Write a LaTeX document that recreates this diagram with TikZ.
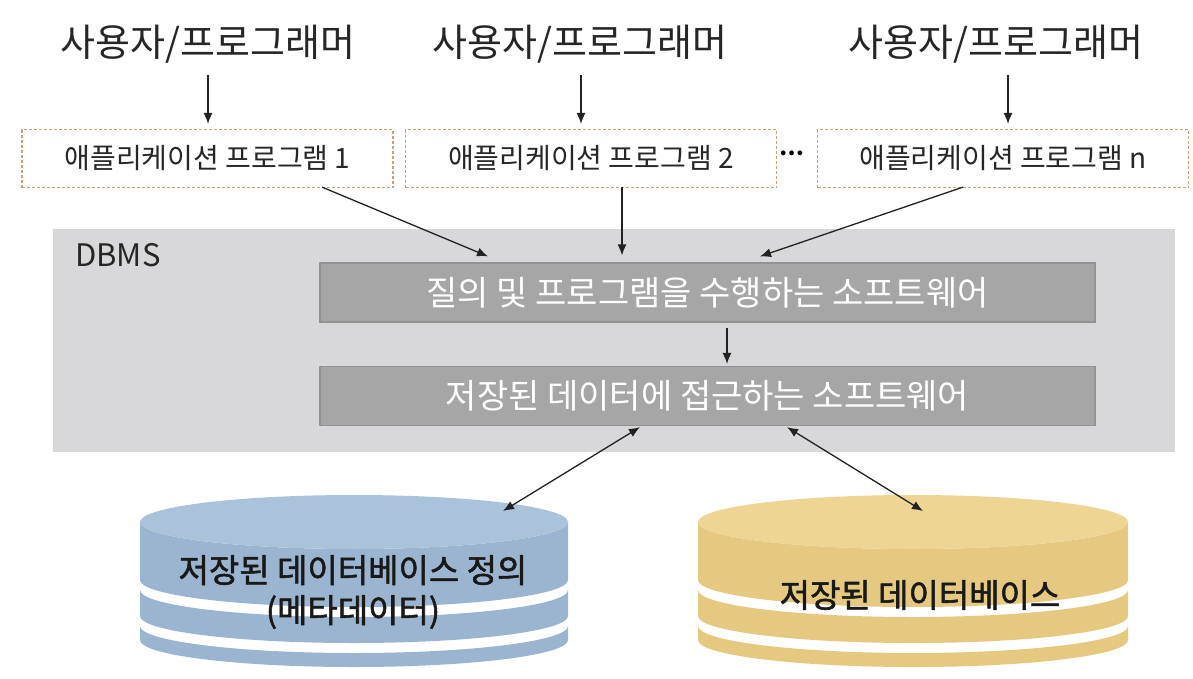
\documentclass[tikz,border=0pt]{standalone}
\usepackage{fontspec}
\setmainfont{Noto Sans CJK KR}
\newfontfamily\cylfont[FakeBold=1.6]{Noto Sans CJK KR}
\usetikzlibrary{arrows.meta}
\definecolor{appc}{HTML}{D29C76}
\definecolor{dbbg}{HTML}{D8D8DA}
\definecolor{innerc}{HTML}{A6A6A6}
\definecolor{innerb}{HTML}{929292}
\definecolor{bluetop}{HTML}{AAC2DA}
\definecolor{blueside}{HTML}{9BB5D0}
\definecolor{yeltop}{HTML}{EED594}
\definecolor{yelside}{HTML}{E6C980}
\definecolor{arrc}{HTML}{222222}
\newcommand\mybands[4]{% cx, rx, topcolor, sidecolor
  \foreach \t/\b in {522/580, 590/616, 626/640}{
    \fill[#4] ({#1-#2},\t) -- ({#1-#2},\b)
      arc[start angle=180, end angle=0, x radius=#2, y radius=27]
      -- ({#1+#2},\t)
      arc[start angle=0, end angle=180, x radius=#2, y radius=27] -- cycle;
  }
  \fill[#3] (#1,522) ellipse [x radius=#2, y radius=27];
}
\begin{document}
\begin{tikzpicture}[x=1pt,y=-1pt,
  user/.style={font=\fontsize{38}{44}\selectfont, inner sep=0pt, text=black!85},
  appbox/.style={draw=appc, dash pattern=on 3pt off 2pt, line width=1.2pt, fill=white,
    minimum width=371pt, minimum height=58pt, inner sep=0pt,
    font=\fontsize{28}{32}\selectfont, text=black!85},
  innerbox/.style={draw=innerb, line width=1.2pt, fill=innerc, minimum width=775pt,
    minimum height=59pt, inner sep=0pt, text=white, font=\fontsize{34}{38}\selectfont},
  cyltext/.style={font=\cylfont\fontsize{33}{40}\selectfont, align=center, inner sep=0pt, text=black!90},
  arr/.style={draw=arrc, line width=1.3pt, -{Latex[length=11pt,width=9pt]}},
  darr/.style={draw=arrc, line width=1.3pt, {Latex[length=11pt,width=9pt]}-{Latex[length=11pt,width=9pt]}}
]
\useasboundingbox (0,0) rectangle (1193,678);
\fill[white] (0,0) rectangle (1193,678);

% users
\node[user] (u1) at (208,44) {사용자/프로그래머};
\node[user] (u2) at (580,44) {사용자/프로그래머};
\node[user] (u3) at (996,44) {사용자/프로그래머};

% application boxes
\node[appbox] (a1) at (207.5,158.5) {애플리케이션 프로그램 1};
\node[appbox] (a2) at (591,158.5) {애플리케이션 프로그램 2};
\node[appbox] (a3) at (1003,158.5) {애플리케이션 프로그램 n};
\node[font=\fontsize{22}{26}\selectfont\bfseries, inner sep=0pt] (dots) at (792,153) {⋯};

\draw[arr] (208,75) -- ([yshift=5pt]u1.south |- a1.north);
\draw[arr] (581,75) -- ([yshift=5pt,xshift=1pt]u2.south |- a2.north);
\draw[arr] (1008,75) -- ([yshift=5pt,xshift=12pt]u3.south |- a3.north);

% DBMS region
\node[fill=dbbg, minimum width=1122pt, minimum height=223pt, inner sep=0pt] (dbms) at (614,340.5) {};
\node[font=\fontsize{31}{36}\selectfont, inner sep=0pt, anchor=west, text=black!85] (dbmsl) at (75,255) {DBMS};

\node[innerbox] (q) at (707.5,292.5) {질의 및 프로그램을 수행하는 소프트웨어};
\node[innerbox] (s) at (707.5,396) {저장된 데이터에 접근하는 소프트웨어};

\draw[arr] ([xshift=114.5pt,yshift=1pt]a1.south) -- ([xshift=-219.5pt,yshift=6pt]q.north);
\draw[arr] ([xshift=31pt,yshift=1pt]a2.south) -- ([xshift=31pt,yshift=7pt]a2.south |- q.north);
\draw[arr] ([xshift=-40pt,yshift=1pt]a3.south) -- ([xshift=52.5pt,yshift=6pt]q.north);
\draw[arr] ([xshift=19.5pt,yshift=-5pt]q.south) -- ([xshift=19.5pt,yshift=2pt]q.south |- s.north);

% cylinders
\mybands{354}{214}{bluetop}{blueside}
\mybands{913}{215}{yeltop}{yelside}
\coordinate (c1top) at (503,511);
\coordinate (c2top) at (923,511);
\node[cyltext] (c1) at (353,592) {저장된 데이터베이스 정의\\(메타데이터)};
\node[cyltext] (c2) at (920,595) {저장된 데이터베이스};

\draw[darr] (c1top) -- ([xshift=-67.5pt,yshift=-1pt]s.south);
\draw[darr] (c2top) -- ([xshift=79.5pt,yshift=-1pt]s.south);
\end{tikzpicture}
\end{document}
